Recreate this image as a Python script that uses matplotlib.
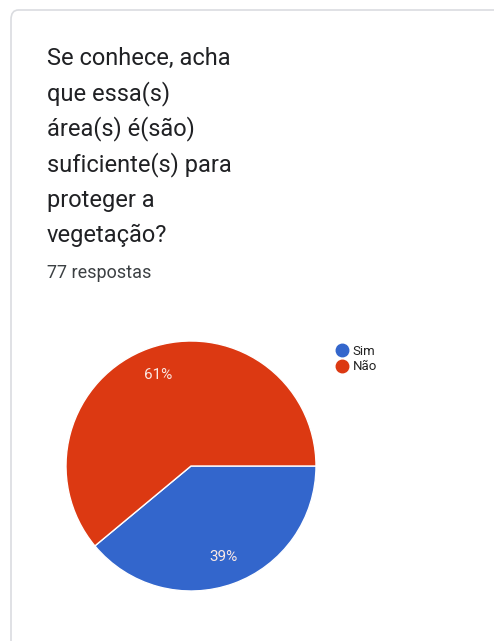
import matplotlib
matplotlib.use('Agg')
from matplotlib import pyplot as plt
from matplotlib.patches import FancyBboxPatch
from matplotlib.lines import Line2D

plt.rcParams['font.family'] = ['Roboto', 'DejaVu Sans']

labels = ['Sim', 'Não']
counts = [30, 47]
colors = ['#3366cc', '#dc3912']
title_lines = ['Se conhece, acha', 'que essa(s)', 'área(s) é(são)',
               'suficiente(s) para', 'proteger a', 'vegetação?']
subtitle = '77 respostas'

W, H = 494, 641
fig = plt.figure(figsize=(W / 100, H / 100), dpi=100)
fig.patch.set_facecolor('white')

def fx(x):
    return x / W

def fy(y):
    return 1 - y / H

# card outline, kept behind everything
card = FancyBboxPatch((fx(11), fy(700)), fx(520), 690 / H,
                      boxstyle='round,pad=0,rounding_size=0.015',
                      transform=fig.transFigure, facecolor='white',
                      edgecolor='#dadce0', linewidth=1.2, zorder=-10)
fig.patches.append(card)

# title
for i, line in enumerate(title_lines):
    fig.text(fx(47), fy(65 + i * 35.4), line, fontsize=17, color='#202124',
             va='baseline', ha='left')
fig.text(fx(47), fy(278), subtitle, fontsize=13, color='#3c4043',
         va='baseline', ha='left')

# pie
cx, cy, r = 191, 466, 125
ax = fig.add_axes([fx(cx - r), fy(cy + r), 2 * r / W, 2 * r / H], zorder=5)
wedges, texts, autotexts = ax.pie(counts, colors=colors, startangle=0,
                                  counterclock=False, autopct='%1.0f%%',
                                  pctdistance=0.77,
                                  wedgeprops={'edgecolor': 'white', 'linewidth': 1},
                                  textprops={'fontsize': 11, 'color': '#fbe9e4'})
ax.set_xlim(-1, 1)
ax.set_ylim(-1, 1)
ax.set_aspect('equal')

# legend
handles = [Line2D([], [], marker='o', linestyle='', markersize=9, color=c)
           for c in colors]
fig.legend(handles, labels, loc='upper left', bbox_to_anchor=(fx(330), fy(338)),
           frameon=False, fontsize=9.5, handlelength=0.8, handletextpad=0.4,
           labelspacing=0.2, borderpad=0, labelcolor='#222222')

fig.savefig('out.png', dpi=100)
